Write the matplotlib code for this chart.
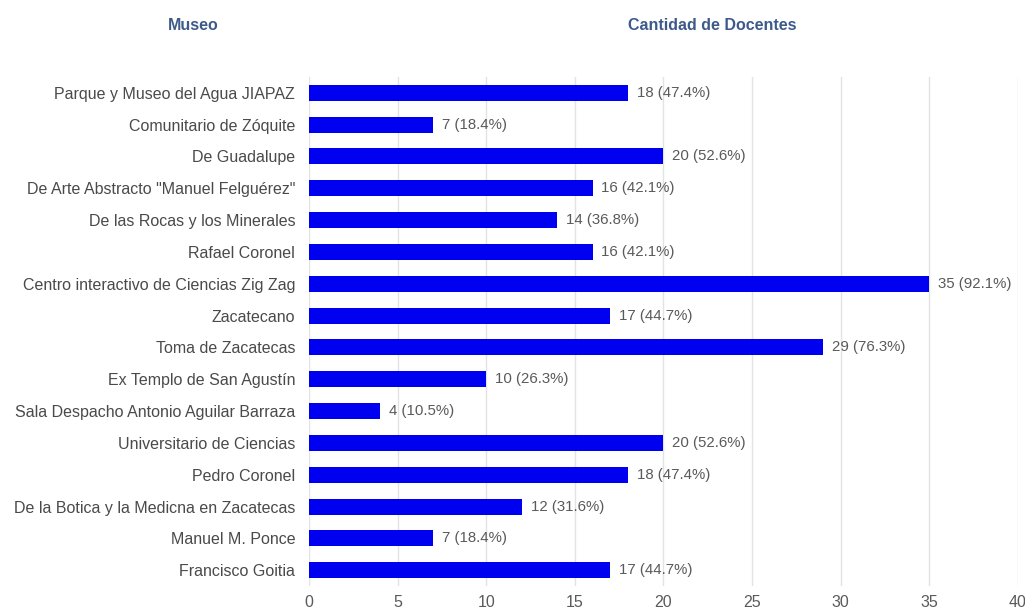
#!/usr/bin/env python3
# teachers per museum, horizontal bars
import matplotlib
matplotlib.use('Agg')
import matplotlib.pyplot as plt

museos = ['Parque y Museo del Agua JIAPAZ', 'Comunitario de Zóquite', 'De Guadalupe',
          'De Arte Abstracto "Manuel Felguérez"', 'De las Rocas y los Minerales',
          'Rafael Coronel', 'Centro interactivo de Ciencias Zig Zag', 'Zacatecano',
          'Toma de Zacatecas', 'Ex Templo de San Agustín',
          'Sala Despacho Antonio Aguilar Barraza', 'Universitario de Ciencias',
          'Pedro Coronel', 'De la Botica y la Medicna en Zacatecas',
          'Manuel M. Ponce', 'Francisco Goitia']
docentes = [18, 7, 20, 16, 14, 16, 35, 17, 29, 10, 4, 20, 18, 12, 7, 17]
porcentajes = [47.4, 18.4, 52.6, 42.1, 36.8, 42.1, 92.1, 44.7, 76.3, 26.3, 10.5,
               52.6, 47.4, 31.6, 18.4, 44.7]
xticks = [0, 5, 10, 15, 20, 25, 30, 35, 40]

plt.rcParams['font.family'] = ['Liberation Sans', 'DejaVu Sans']
fig = plt.figure(figsize=(10.25, 6.1), dpi=100)
ax = fig.add_axes([0.3015, 0.039, 0.6915, 0.835])

pos = list(range(len(museos)))
ax.barh(pos, docentes, height=0.5, color='#0000f0', zorder=3)
for p, v, pc in zip(pos, docentes, porcentajes):
    ax.text(v + 0.5, p, '%d (%.1f%%)' % (v, pc), va='center', ha='left',
            fontsize=10.8, color='#5a5a5a', zorder=4)

ax.set_xlim(0, 40)
ax.set_ylim(len(museos) - 0.5, -0.5)
ax.set_yticks(pos)
ax.set_yticklabels(museos, fontsize=11.5, color='#4a4a4a')
ax.set_xticks(xticks)
ax.set_xticklabels([str(t) for t in xticks], fontsize=11.5, color='#5a5a5a')
ax.tick_params(axis='both', length=0)
ax.tick_params(axis='y', pad=10)
ax.tick_params(axis='x', pad=6)
ax.grid(axis='x', color='#e3e3e3', linewidth=1, zorder=0)
for s in ax.spines.values():
    s.set_visible(False)

fig.text(193/1025, 1 - 26/610, 'Museo', ha='center', va='center',
         fontsize=11.5, fontweight='bold', color='#3d5a8a')
fig.text(712/1025, 1 - 26/610, 'Cantidad de Docentes', ha='center', va='center',
         fontsize=11.5, fontweight='bold', color='#3d5a8a')

fig.savefig('out.png', dpi=100)
